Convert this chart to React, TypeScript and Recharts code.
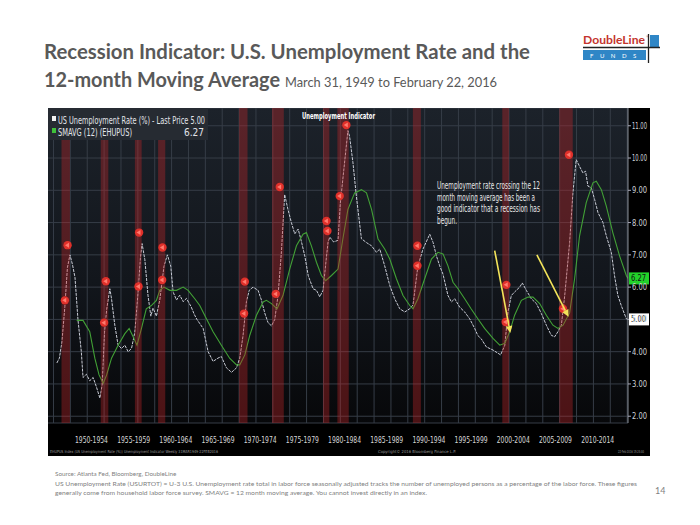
import { ComposedChart, Line, XAxis, YAxis, CartesianGrid, ReferenceArea, ReferenceLine, Scatter } from 'recharts';

// US unemployment rate (%): [year, value]
const RATE: [number, number][] = [
  [1948.4, 3.65], [1948.7, 3.8], [1949.0, 4.3], [1949.35, 5.4], [1949.65, 6.6], [1949.95, 7.0],
  [1950.25, 6.7], [1950.55, 6.3], [1950.9, 5.0], [1951.3, 4.0], [1951.5, 3.2], [1951.9, 3.3],
  [1952.3, 3.1], [1952.7, 3.2], [1953.1, 2.9], [1953.5, 2.56], [1953.77, 2.97], [1954.05, 4.6],
  [1954.3, 5.3], [1954.68, 5.95], [1954.88, 5.64], [1955.27, 4.82], [1955.66, 4.2], [1956.07, 4.1],
  [1956.46, 4.2], [1956.85, 4.0], [1957.25, 4.1], [1957.64, 4.6], [1958.03, 5.85], [1958.3, 6.9],
  [1958.5, 7.35], [1958.83, 6.85], [1959.2, 5.75], [1959.54, 5.1], [1959.8, 5.35], [1960.2, 5.1],
  [1960.6, 5.6], [1961.1, 6.65], [1961.5, 7.0], [1961.9, 6.65], [1962.18, 5.85], [1962.58, 5.6],
  [1962.97, 5.75], [1963.37, 5.55], [1963.76, 5.65], [1964.3, 5.4], [1964.7, 5.15], [1965.0, 5.0],
  [1965.74, 4.72], [1966.33, 4.0], [1966.92, 3.7], [1967.5, 3.8], [1967.9, 3.85], [1968.5, 3.5],
  [1969.1, 3.36], [1969.7, 3.5], [1970.08, 3.8], [1970.47, 4.5], [1970.87, 5.55], [1971.2, 5.9],
  [1971.66, 6.0], [1972.25, 5.9], [1972.65, 5.6], [1973.04, 5.2], [1973.43, 4.9], [1973.84, 4.8],
  [1974.23, 5.0], [1974.62, 5.75], [1975.02, 7.1], [1975.4, 8.87], [1975.8, 8.4], [1976.2, 8.0],
  [1976.6, 7.65], [1977.0, 7.8], [1977.4, 7.4], [1977.8, 6.95], [1978.2, 6.35], [1978.77, 5.95],
  [1979.17, 5.9], [1979.56, 5.7], [1979.95, 5.9], [1980.36, 6.95], [1980.55, 7.4], [1980.75, 7.55],
  [1981.2, 7.4], [1981.73, 7.45], [1982.0, 8.6], [1982.4, 9.6], [1982.9, 10.85], [1983.1, 10.67],
  [1983.5, 9.85], [1983.9, 8.82], [1984.5, 7.5], [1985.1, 7.38], [1985.7, 7.28], [1986.28, 7.08],
  [1986.67, 7.18], [1987.26, 6.66], [1987.86, 6.05], [1988.45, 5.64], [1989.04, 5.33], [1989.64, 5.23],
  [1990.23, 5.33], [1990.62, 5.45], [1991.2, 6.66], [1991.8, 7.18], [1992.6, 7.64], [1993.0, 7.38],
  [1993.39, 6.97], [1993.78, 6.66], [1994.17, 6.4], [1994.76, 5.74], [1995.17, 5.54], [1995.56, 5.64],
  [1996.15, 5.38], [1996.74, 5.23], [1997.33, 5.02], [1997.93, 4.72], [1998.3, 4.5], [1998.7, 4.4],
  [1999.3, 4.15], [2000.1, 4.05], [2001.0, 3.9], [2001.5, 4.2], [2001.87, 5.23], [2002.27, 5.74],
  [2002.66, 5.85], [2003.26, 6.0], [2003.57, 6.13], [2004.05, 5.9], [2004.64, 5.64], [2005.24, 5.49],
  [2005.83, 5.18], [2006.42, 4.82], [2007.0, 4.51], [2007.4, 4.46], [2007.8, 4.62], [2008.2, 4.82],
  [2008.6, 5.74], [2009.18, 7.38], [2009.57, 8.92], [2009.96, 9.95], [2010.36, 9.74], [2010.75, 9.54],
  [2011.07, 9.59], [2011.35, 9.13], [2011.75, 9.08], [2012.14, 8.72], [2012.54, 8.31], [2013.13, 8.0],
  [2013.53, 7.59], [2014.12, 7.08], [2014.5, 6.36], [2014.9, 5.74], [2015.3, 5.43], [2015.9, 5.02],
  [2016.1, 5.0],
];

// SMAVG (12) of the rate
const SMAVG: [number, number][] = [
  [1950.75, 4.97], [1951.5, 4.97], [1952.3, 4.62], [1952.9, 3.8], [1953.4, 3.28], [1953.9, 3.02],
  [1954.3, 3.28], [1954.88, 3.8], [1955.66, 4.2], [1956.46, 4.56], [1956.97, 4.72], [1957.44, 4.46],
  [1957.9, 4.2], [1958.43, 4.72], [1959.0, 5.33], [1959.6, 5.43], [1960.2, 5.59], [1960.6, 5.9],
  [1961.08, 6.0], [1961.8, 5.9], [1962.58, 5.9], [1963.37, 6.0], [1963.96, 5.9], [1964.75, 5.64],
  [1965.34, 5.43], [1966.13, 5.02], [1966.92, 4.62], [1967.9, 4.2], [1968.9, 3.79], [1969.7, 3.59],
  [1970.08, 3.59], [1970.68, 3.9], [1971.27, 4.51], [1972.06, 5.13], [1972.85, 5.54], [1973.24, 5.59],
  [1973.84, 5.49], [1974.5, 5.33], [1975.2, 5.74], [1976.0, 6.56], [1976.8, 7.28], [1977.58, 7.64],
  [1977.98, 7.69], [1978.57, 7.28], [1979.17, 6.77], [1979.76, 6.36], [1980.27, 6.2], [1980.95, 6.36],
  [1981.73, 6.56], [1982.3, 7.49], [1982.9, 8.41], [1983.7, 8.92], [1984.5, 9.02], [1985.1, 8.92],
  [1985.7, 8.41], [1986.47, 7.49], [1987.26, 7.18], [1987.86, 6.87], [1988.65, 6.26], [1989.43, 5.74],
  [1990.23, 5.43], [1990.62, 5.33], [1991.2, 5.64], [1992.0, 6.26], [1992.8, 6.87], [1993.58, 7.08],
  [1994.17, 7.03], [1994.76, 6.66], [1995.36, 6.15], [1995.95, 5.95], [1996.74, 5.64], [1997.5, 5.33],
  [1998.3, 5.02], [1999.1, 4.72], [2000.1, 4.41], [2000.9, 4.2], [2001.5, 4.26], [2002.08, 4.62],
  [2002.66, 5.13], [2003.46, 5.59], [2004.25, 5.69], [2004.84, 5.69], [2005.63, 5.49], [2006.42, 5.13],
  [2007.2, 4.82], [2007.8, 4.72], [2008.4, 4.82], [2009.18, 5.2], [2009.77, 6.26], [2010.36, 7.59],
  [2011.15, 8.62], [2011.94, 9.23], [2012.34, 9.28], [2012.94, 9.02], [2013.53, 8.51], [2014.3, 7.69],
  [2015.1, 6.97], [2015.9, 6.36], [2016.1, 6.27],
];

// shaded recession periods [start, end]
const RECESSIONS: [number, number][] = [
  [1948.95, 1949.95], [1953.6, 1954.5], [1957.65, 1958.45], [1960.4, 1961.25], [1970.0, 1971.0],
  [1973.9, 1975.3], [1979.95, 1980.7], [1981.65, 1983.0], [1990.6, 1991.55], [2001.2, 2002.0],
  [2007.95, 2009.55],
];

// red crossing markers
const SIGNALS: [number, number][] = [
  [1949.67, 7.3], [1949.35, 5.59], [1954.21, 6.18], [1954.0, 4.9], [1958.15, 7.69], [1958.08, 6.02],
  [1960.92, 7.23], [1960.88, 6.22], [1970.68, 6.17], [1970.59, 5.18], [1974.82, 9.1], [1974.35, 5.79],
  [1980.36, 8.05], [1980.47, 7.74], [1981.93, 8.82], [1982.72, 11.02], [1991.14, 7.28], [1991.14, 6.66],
  [2001.68, 6.07], [2001.6, 4.92], [2009.1, 10.1], [2008.39, 5.33],
];

// yellow annotation arrows [fromYear, fromValue, toYear, toValue]
const ARROWS: [number, number, number, number][] = [
  [2000.3, 7.13, 2002.15, 4.58],
  [2005.3, 7.0, 2009.05, 5.08],
];

const PERIODS = ['1950-1954', '1955-1959', '1960-1964', '1965-1969', '1970-1974', '1975-1979', '1980-1984',
  '1985-1989', '1990-1994', '1995-1999', '2000-2004', '2005-2009', '2010-2014'];
const PERIOD_EDGES = [1955, 1960, 1965, 1970, 1975, 1980, 1985, 1990, 1995, 2000, 2005, 2010, 2015];
const Y_TICKS = [2, 3, 4, 5, 6, 7, 8, 9, 10, 11];
const LAST_RATE = 5.0;
const LAST_SMAVG = 6.27;

const X_DOMAIN: [number, number] = [1947.35, 2016.1];
const Y_DOMAIN: [number, number] = [1.79, 11.55];
const GRID_YEARS = Array.from({ length: 35 }, (_, i) => 1948 + i * 2);

const NARROW = "'Liberation Sans Narrow','Arial Narrow','DejaVu Sans Condensed',sans-serif";
const SANS = "Lato, 'Open Sans', sans-serif";

const rateData = RATE.map(([t, v]) => ({ t, v }));
const smaData = SMAVG.map(([t, v]) => ({ t, v }));
const signalData = SIGNALS.map(([t, v]) => ({ t, v }));
const periodMids = PERIODS.map((p) => parseInt(p.slice(0, 4), 10) + 2.5);

const PeriodTick = (props: any) => {
  const { x, y, payload } = props;
  const label = PERIODS[periodMids.indexOf(payload.value)] ?? '';
  return (
    <text x={x} y={y + 12} textAnchor="middle" fill="#d6d6d6" fontSize={9.5} fontFamily={NARROW}
      textLength={33} lengthAdjust="spacingAndGlyphs">
      {label}
    </text>
  );
};

const RateTick = (props: any) => {
  const { x, y, payload } = props;
  return (
    <text x={x} y={y + 3} textAnchor="start" fill="#cfd3d8" fontSize={8} fontFamily={NARROW}
      textLength={15} lengthAdjust="spacingAndGlyphs">
      {Number(payload.value).toFixed(2)}
    </text>
  );
};

const SignalMark = (props: any) => {
  const { cx, cy } = props;
  if (cx == null || cy == null) return null;
  return (
    <g>
      <circle cx={cx} cy={cy} r={4.2} fill="#e0302a" />
      <path d={`M${cx - 2.6},${cy} L${cx + 1.4},${cy - 2.5} L${cx + 1.4},${cy + 2.5} Z`} fill="#ff7a6e" />
    </g>
  );
};

const ArrowShape = (props: any) => {
  const { x1, y1, x2, y2 } = props;
  if ([x1, y1, x2, y2].some((n) => n == null || Number.isNaN(n))) return null;
  const a = Math.atan2(y2 - y1, x2 - x1);
  const bx = x2 - 7 * Math.cos(a);
  const by = y2 - 7 * Math.sin(a);
  const px = -Math.sin(a) * 3.4;
  const py = Math.cos(a) * 3.4;
  return (
    <g>
      <line x1={x1} y1={y1} x2={bx} y2={by} stroke="#f3e45a" strokeWidth={1.6} />
      <polygon points={`${x2},${y2} ${bx + px},${by + py} ${bx - px},${by - py}`} fill="#f3e45a" />
    </g>
  );
};

const valueTag = (text: string, bg: string) => (props: any) => {
  const vb = props.viewBox;
  if (!vb) return null;
  const x = vb.x + vb.width + 1;
  const y = vb.y;
  return (
    <g>
      <rect x={x} y={y - 6} width={20} height={12} fill={bg} />
      <text x={x + 2} y={y + 3} fill="#111" fontSize={8} fontFamily={NARROW}
        textLength={15} lengthAdjust="spacingAndGlyphs">{text}</text>
    </g>
  );
};

function BloombergChart() {
  return (
    <div style={{ position: 'absolute', left: 48, top: 108, width: 602, height: 348, background: '#000' }}>
      <div style={{
        position: 'absolute', left: 0, top: 0, width: 580, height: 315,
        background: 'linear-gradient(180deg, #1c222a 0%, #12161c 55%, #07080a 100%)',
      }} />
      <div style={{ position: 'absolute', left: 0, top: 0 }}>
        {/* svg 12px wider than the black box so the narrow axis labels have room; plot keeps its place */}
        <ComposedChart width={614} height={348} margin={{ top: 0, right: 12, bottom: 0, left: 0 }}>
          <CartesianGrid xAxisId="period" stroke="#363d47" strokeWidth={1} verticalValues={GRID_YEARS} />
          <XAxis xAxisId="sep" dataKey="t" type="number" domain={X_DOMAIN} ticks={PERIOD_EDGES}
            tickFormatter={() => ''} tickSize={33} tickLine={{ stroke: '#4b4b4b' }} interval={0}
            axisLine={{ stroke: '#777' }} height={0} allowDataOverflow />
          <XAxis xAxisId="period" dataKey="t" type="number" domain={X_DOMAIN} ticks={periodMids}
            interval={0} tick={<PeriodTick />} tickLine={false} axisLine={false} height={33} allowDataOverflow />
          <YAxis orientation="right" type="number" domain={Y_DOMAIN} ticks={Y_TICKS} width={22}
            interval={0} tickSize={3} tickMargin={1} tick={<RateTick />} tickLine={{ stroke: '#aab' }}
            axisLine={{ stroke: '#8a9099' }} allowDataOverflow />
          <Line xAxisId="period" data={rateData} dataKey="v" type="linear" stroke="#c9ccd6"
            strokeWidth={1} strokeDasharray="3 1" dot={false} isAnimationActive={false} />
          <Line xAxisId="period" data={smaData} dataKey="v" type="linear" stroke="#42a036"
            strokeWidth={1.1} dot={false} isAnimationActive={false} />
          {RECESSIONS.map(([a, b]) => (
            <ReferenceArea key={a} xAxisId="period" x1={a} x2={b} fill="#c8282a" fillOpacity={0.36}
              stroke="none" zIndex={500} />
          ))}
          <Scatter xAxisId="period" data={signalData} dataKey="v" shape={<SignalMark />}
            isAnimationActive={false} zIndex={700} />
          {ARROWS.map(([a, b, c, d]) => (
            <ReferenceLine key={a} xAxisId="period" segment={[{ x: a, y: b }, { x: c, y: d }]}
              stroke="#f3e45a" shape={ArrowShape} zIndex={800} />
          ))}
          <ReferenceLine xAxisId="period" y={LAST_SMAVG} stroke="none"
            label={valueTag(LAST_SMAVG.toFixed(2), '#22d22a')} zIndex={900} />
          <ReferenceLine xAxisId="period" y={LAST_RATE} stroke="none"
            label={valueTag(LAST_RATE.toFixed(2), '#ffffff')} zIndex={900} />
        </ComposedChart>
      </div>
      <svg width={620} height={348} style={{ position: 'absolute', left: 0, top: 0, pointerEvents: 'none' }}>
        <rect x={0} y={0} width={160} height={32} fill="#262b32" />
        <rect x={4} y={8} width={4} height={5} fill="#f2f2f2" />
        <text x={10} y={15.5} fill="#e2e5ea" fontSize={10} fontFamily={NARROW}
          textLength={147} lengthAdjust="spacingAndGlyphs">US Unemployment Rate (%) - Last Price 5.00</text>
        <rect x={4} y={20} width={4} height={5} fill="#3fc13a" />
        <text x={10} y={27.5} fill="#e2e5ea" fontSize={10} fontFamily={NARROW}
          textLength={74} lengthAdjust="spacingAndGlyphs">SMAVG (12) (EHUPUS)</text>
        <text x={156} y={27.5} fill="#e2e5ea" fontSize={10} fontFamily={NARROW} textAnchor="end">6.27</text>
        <text x={254} y={11} fill="#ffffff" fontSize={8.5} fontWeight="bold" fontFamily={NARROW}
          textLength={73} lengthAdjust="spacingAndGlyphs">Unemployment Indicator</text>
        <g fill="#e6e6e6" fontSize={10} fontFamily={NARROW}>
          <text x={389} y={81} textLength={103} lengthAdjust="spacingAndGlyphs">Unemployment rate crossing the 12</text>
          <text x={389} y={92.5} textLength={98} lengthAdjust="spacingAndGlyphs">month moving average has been a</text>
          <text x={389} y={104} textLength={103} lengthAdjust="spacingAndGlyphs">good indicator that a recession has</text>
          <text x={389} y={115.5} textLength={20} lengthAdjust="spacingAndGlyphs">begun.</text>
        </g>
        <g fill="#9a9a9a" fontSize={4} fontFamily={NARROW}>
          <text x={2} y={345} textLength={168} lengthAdjust="spacingAndGlyphs">EHUPUS Index (US Unemployment Rate (%)) Unemployment Indicator   Weekly 31MAR1949-22FEB2016</text>
          <text x={330} y={345} textLength={78} lengthAdjust="spacingAndGlyphs">Copyright© 2016 Bloomberg Finance L.P.</text>
          <text x={570} y={345} textLength={26} lengthAdjust="spacingAndGlyphs">22-Feb-2016 15:24:00</text>
        </g>
      </svg>
    </div>
  );
}

export default function App() {
  return (
    <div style={{ position: 'absolute', left: 0, top: 0, width: 700, height: 525, background: '#fff', overflow: 'hidden' }}>
      <svg width={700} height={525} style={{ position: 'absolute', left: 0, top: 0 }}>
        <text x={44} y={59} fill="#595959" fontSize={20} fontWeight={700} fontFamily={SANS}
          textLength={486} lengthAdjust="spacingAndGlyphs">Recession Indicator: U.S. Unemployment Rate and the</text>
        <text x={44} y={87} fill="#595959" fontSize={20} fontWeight={700} fontFamily={SANS}
          textLength={236} lengthAdjust="spacingAndGlyphs">12-month Moving Average</text>
        <text x={285} y={87} fill="#595959" fontSize={13.5} fontFamily={SANS}
          textLength={212} lengthAdjust="spacingAndGlyphs">March 31, 1949 to February 22, 2016</text>
        {/* logo */}
        <text x={583} y={44} fill="#c4342d" fontSize={12} fontWeight={700} fontFamily={SANS}
          textLength={62} lengthAdjust="spacingAndGlyphs">DoubleLine</text>
        <text x={646} y={38} fill="#c4342d" fontSize={4}>®</text>
        <rect x={583} y={50} width={63} height={10} fill="#2f86c6" />
        <text x={590} y={57.5} fill="#fff" fontSize={6} fontFamily={SANS} letterSpacing={6.5}>FUNDS</text>
        <rect x={650} y={35} width={9} height={12} fill="#2f86c6" />
        <line x1={648.5} y1={34} x2={648.5} y2={63} stroke="#222" strokeWidth={1.3} />
        <line x1={583} y1={47.5} x2={660} y2={47.5} stroke="#222" strokeWidth={1.3} />
        {/* footnotes */}
        <g fill="#7f7f7f" fontSize={6.3} fontFamily={SANS}>
          <text x={55} y={476}>Source: Atlanta Fed, Bloomberg, DoubleLine</text>
          <text x={55} y={485.5} textLength={582} lengthAdjust="spacingAndGlyphs">US Unemployment Rate (USURTOT) = U-3 U.S. Unemployment rate total in labor force seasonally adjusted tracks the number of unemployed persons as a percentage of the labor force. These figures</text>
          <text x={55} y={495} textLength={372} lengthAdjust="spacingAndGlyphs">generally come from household labor force survey. SMAVG = 12 month moving average. You cannot invest directly in an index.</text>
        </g>
        <text x={655} y={494} fill="#7f7f7f" fontSize={9} fontFamily={SANS}>14</text>
      </svg>
      <BloombergChart />
    </div>
  );
}
